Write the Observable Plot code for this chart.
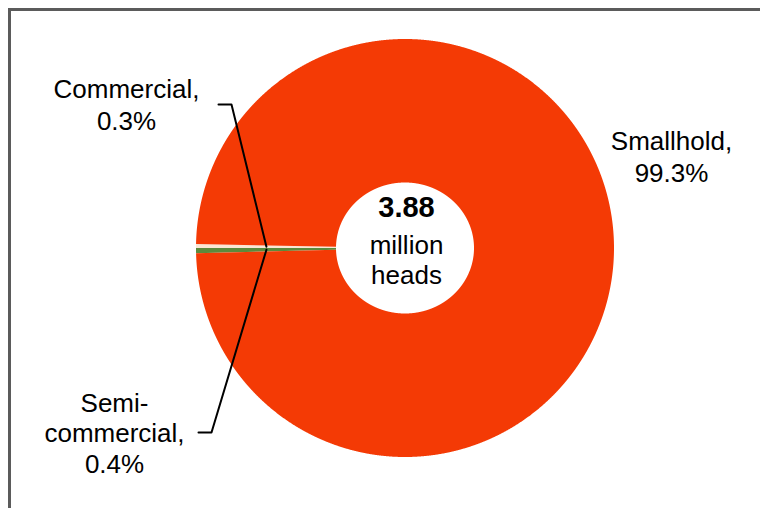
<!DOCTYPE html>
<html>
<head>
<meta charset="utf-8">
<script src="https://cdn.jsdelivr.net/npm/d3@7"></script>
<script src="https://cdn.jsdelivr.net/npm/@observablehq/plot@0.6"></script>
<style>
  html, body { margin: 0; padding: 0; background: #fff; overflow: hidden; }
  #chart { position: absolute; left: 0; top: 0; }
  #frame { position: absolute; left: 8px; top: 8px; width: 900px; height: 700px;
           border-left: 3px solid #5b5b5b; border-top: 3px solid #5b5b5b; pointer-events: none; }
</style>
</head>
<body>
<div id="chart"></div>
<div id="frame"></div>
<script>
// ---- data ----
const categories = ["Semi-commercial", "Commercial", "Smallhold"];
const shares = [0.4, 0.3, 99.3];             // percent of 3.88 million heads
const sliceColors = ["#5b8a3c", "#fbe6d4", "#f43a05"];
const labelLines = [["Semi-", "commercial,", "0.4%"], ["Commercial,", "0.3%"], ["Smallhold,", "99.3%"]];
const centerLines = ["3.88", "million", "heads"];

// ---- layout ----
const W = 760, H = 508;
const cx = 404.5, cy = 247.5, R = 209, holeRx = 69, holeRy = 65.5;
const font = "'Liberation Sans', Arial, Helvetica, sans-serif";
const labelX = [114, 126, 671];
const labelBase = [411, 97.7, 149.3];
const labelGap = [30.5, 31.6, 32.4];
const elbows = [[[198, 432], [211, 432]], [[218, 104], [231, 104]], null];
const centerBase = [216.7, 253.3, 283.3];
const centerSize = [29, 26, 26];
const labelSize = 26;

const rows = categories.map((name, i) => ({name, share: shares[i], color: sliceColors[i]}));
const semiAngle = shares[0] / d3.sum(shares) * 2 * Math.PI;
const start = 1.5 * Math.PI - semiAngle;
const arcs = d3.pie().sort(null).value(d => d.share).startAngle(start).endAngle(start + 2 * Math.PI)(rows);

// polygon vertices for each donut sector
const pts = [];
for (const a of arcs) {
  const n = Math.max(4, Math.ceil((a.endAngle - a.startAngle) / 0.002));
  for (let i = 0; i <= n; i++) {
    const t = a.startAngle + (a.endAngle - a.startAngle) * i / n;
    pts.push({name: a.data.name, color: a.data.color, x: cx + R * Math.sin(t), y: cy - R * Math.cos(t)});
  }
  for (let i = n; i >= 0; i--) {
    const t = a.startAngle + (a.endAngle - a.startAngle) * i / n;
    pts.push({name: a.data.name, color: a.data.color, x: cx + holeRx * Math.sin(t), y: cy - holeRy * Math.cos(t)});
  }
}

// leader lines: from label elbow to a point inside the slice
const leaders = [];
arcs.forEach((a, i) => {
  if (!elbows[i]) return;
  const mid = (a.startAngle + a.endAngle) / 2;
  const rr = 0.663 * R;
  elbows[i].forEach(([x, y]) => leaders.push({name: a.data.name, x, y}));
  leaders.push({name: a.data.name, x: cx + rr * Math.sin(mid), y: cy - rr * Math.cos(mid)});
});

// label text rows
const labelRows = [];
labelLines.forEach((lines, i) => {
  lines.forEach((t, j) => labelRows.push({text: t, x: labelX[i], y: labelBase[i] + j * labelGap[i] - 0.32 * labelSize}));
});
const centerRows = centerLines.map((t, j) => ({text: t, x: cx + 1.5, y: centerBase[j] - 0.32 * centerSize[j], size: centerSize[j], bold: j === 0}));

const chart = Plot.plot({
  width: W, height: H, margin: 0,
  x: {domain: [0, W], range: [0, W], axis: null},
  y: {domain: [0, H], range: [0, H], axis: null},
  color: {type: "identity"},
  style: {fontFamily: font, background: "transparent"},
  marks: [
    Plot.line(pts, {x: "x", y: "y", z: "name", fill: "color", stroke: "none", curve: "linear"}),
    Plot.line(leaders, {x: "x", y: "y", z: "name", stroke: "black", strokeWidth: 2, curve: "linear"}),
    Plot.text(labelRows, {x: "x", y: "y", text: "text", fontSize: labelSize, fill: "black", textAnchor: "middle", lineAnchor: "middle"}),
    Plot.text(centerRows.filter(d => d.bold), {x: "x", y: "y", text: "text", fontSize: centerSize[0], fontWeight: "bold", fill: "black", textAnchor: "middle", lineAnchor: "middle"}),
    Plot.text(centerRows.filter(d => !d.bold), {x: "x", y: "y", text: "text", fontSize: centerSize[1], fill: "black", textAnchor: "middle", lineAnchor: "middle"})
  ]
});
document.getElementById("chart").appendChild(chart);
</script>
</body>
</html>
